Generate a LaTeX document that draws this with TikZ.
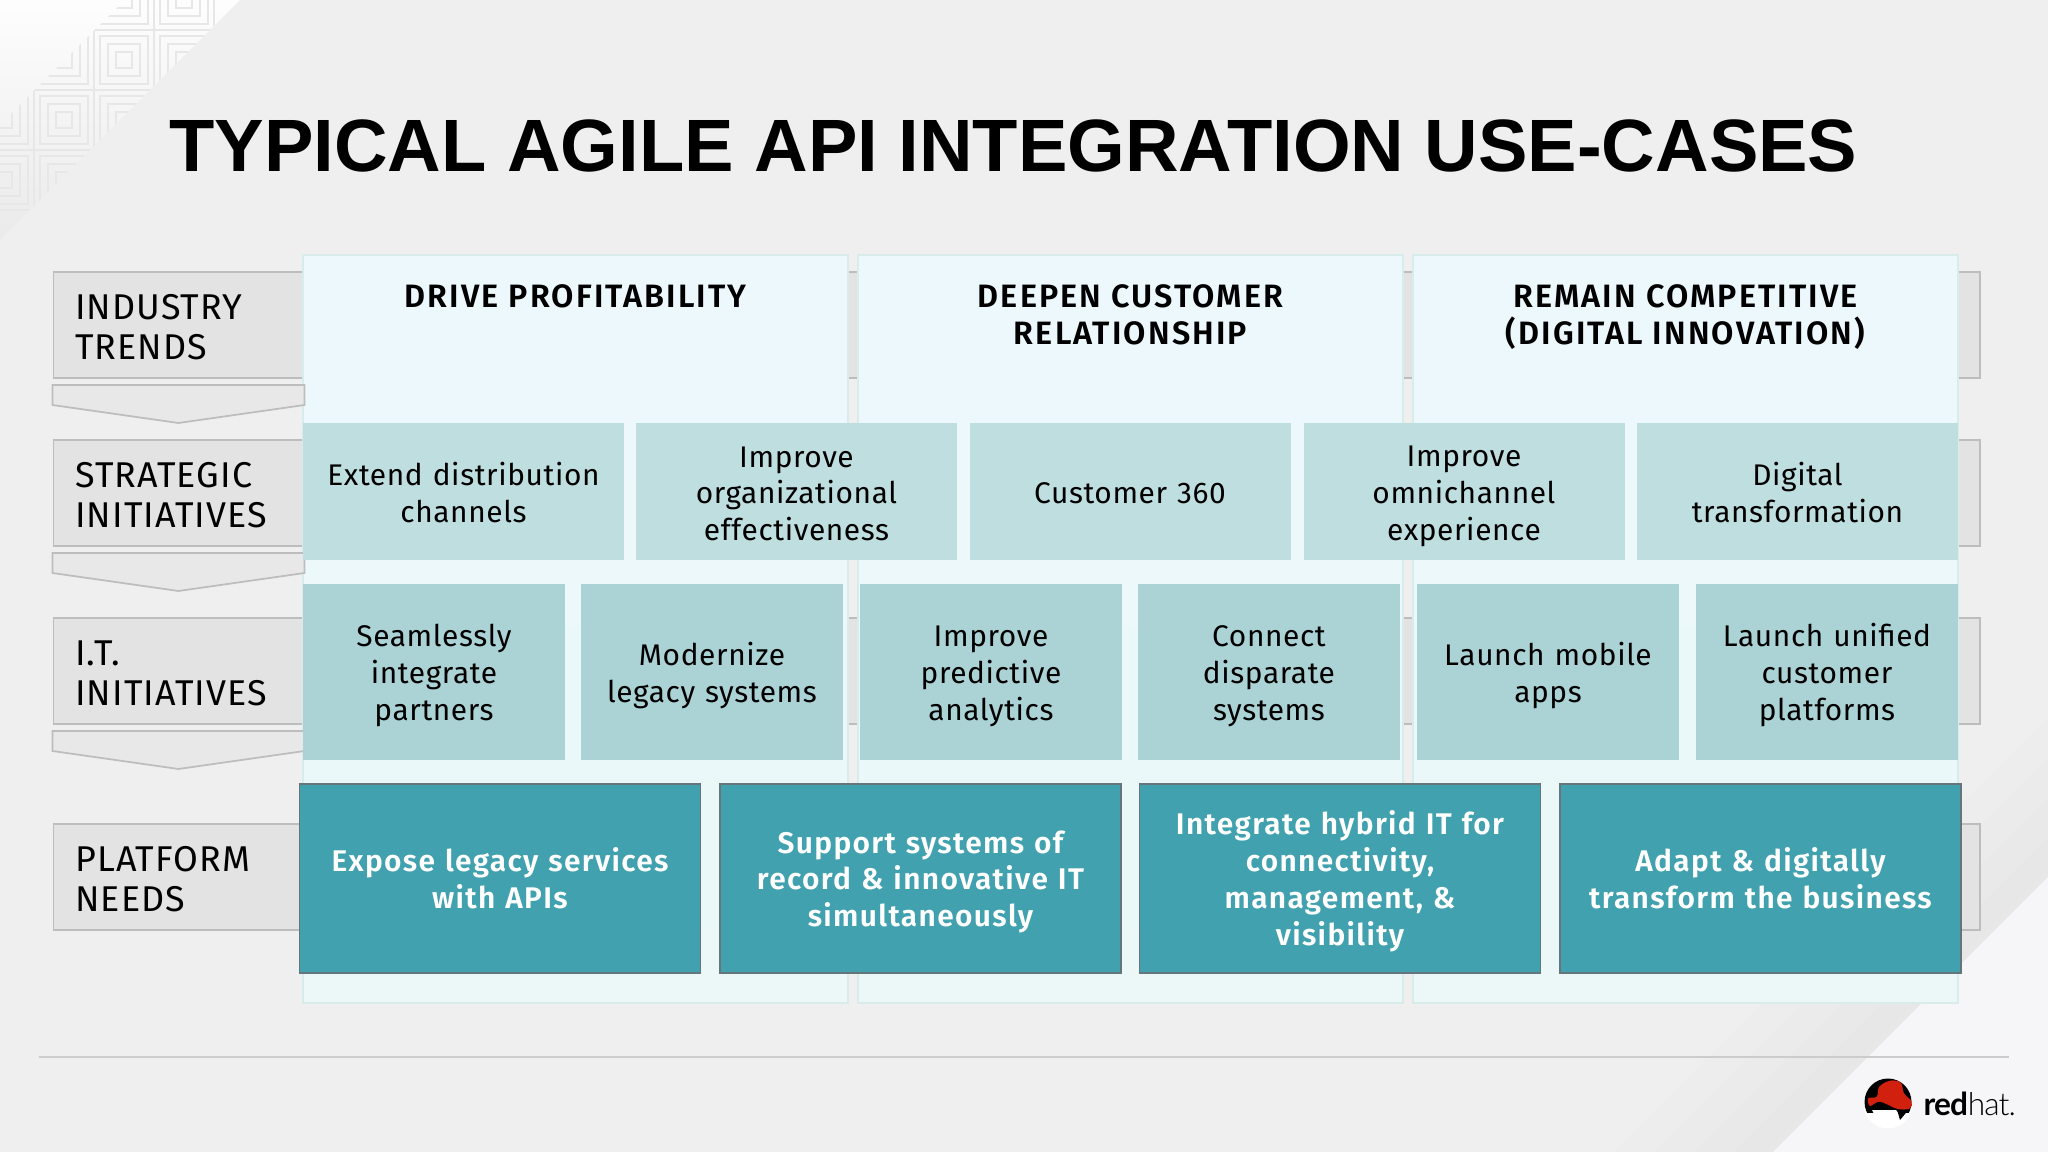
\documentclass[tikz,border=0pt]{standalone}
\usepackage{fontspec}
\usepackage{xcolor}
\usetikzlibrary{positioning}
\setmainfont{Fira Sans}
\newfontfamily\titlefont{Liberation Sans}
\newfontfamily\logofont[LetterSpace=-3]{Lato}
\newfontfamily\logolight[LetterSpace=-3]{Lato Light}
\newfontfamily\bandfont[LetterSpace=3]{Fira Sans}
\newfontfamily\bodyfont[LetterSpace=2]{Fira Sans}
\newfontfamily\headfont[LetterSpace=6.5]{Fira Sans SemiBold}
\newfontfamily\platformfont[LetterSpace=4.5]{Fira Sans SemiBold}
\definecolor{slidebg}{HTML}{EFEFEF}
\definecolor{slidelight}{HTML}{F6F5F7}
\definecolor{patternline}{HTML}{E7E7E7}
\definecolor{bandfill}{HTML}{E3E3E3}
\definecolor{bandline}{HTML}{BDBDBD}
\definecolor{columntop}{HTML}{ECF8FC}
\definecolor{columnbot}{HTML}{EBF8F7}
\definecolor{columnline}{HTML}{D8ECEC}
\definecolor{strategicfill}{HTML}{BFDEE0}
\definecolor{itfill}{HTML}{ABD2D5}
\definecolor{platformfill}{HTML}{42A1AE}
\definecolor{platformline}{HTML}{647679}
\definecolor{hatred}{HTML}{D2200F}
\newcommand{\cellstrut}{\rule[-1.6pt]{0pt}{10pt}}
\tikzset{
    bandtext/.style={anchor=west, align=left, inner sep=0pt, font=\bandfont\fontsize{10.2}{11.4}\selectfont},
    headtext/.style={anchor=north, align=center, inner sep=0pt, font=\headfont\fontsize{9.2}{10.5}\selectfont},
    cellbox/.style={align=center, inner sep=0pt, font=\bodyfont\fontsize{8.5}{10.5}\selectfont,
        execute at begin node=\cellstrut, execute at end node=\cellstrut},
    strategicbox/.style={cellbox, fill=strategicfill, text width=3.21cm, minimum height=1.37cm},
    itbox/.style={cellbox, fill=itfill, text width=2.62cm, minimum height=1.76cm},
    platformbox/.style={cellbox, fill=platformfill, draw=platformline, line width=0.5pt, text=white,
        text width=4.01cm, minimum height=1.89cm, font=\platformfont\fontsize{8.5}{10.5}\selectfont},
    column/.style={top color=columntop, bottom color=columnbot, draw=columnline, line width=0.4pt}
}
\begin{document}
\begin{tikzpicture}[y=-1cm]
\useasboundingbox (0,0) rectangle (20.48,11.52);

% Background
\fill[slidebg] (0,0) rectangle (20.48,11.52);
\foreach \d in {0.4,0.8,1.2,1.6} {
    \fill[black, opacity=0.006] (20.48,8.77-\d) -- (20.48,8.77) -- (17.73,11.52) -- (17.73-\d,11.52) -- cycle;
}
\fill[slidelight] (20.48,8.77) -- (20.48,11.52) -- (17.73,11.52) -- cycle;

% Corner pattern
\begin{scope}
\clip (0,0) -- (2.4,0) -- (0,2.4) -- cycle;
\shade[shading angle=45, top color=white!90!slidebg, bottom color=slidebg!98!black] (0,0) rectangle (2.4,2.4);
\end{scope}
\begin{scope}
\clip (1.25,0) -- (2.4,0) -- (0,2.4) -- (0,1.25) -- cycle;
\foreach \cx in {0.04,0.64,1.24,1.84} {
    \foreach \cy in {0,0.6,1.2,1.8} {
        \draw[patternline, line width=0.5pt] (\cx-0.3,\cy-0.3) rectangle (\cx+0.3,\cy+0.3);
        \draw[patternline, line width=0.5pt] (\cx-0.24,\cy-0.24) rectangle (\cx+0.24,\cy+0.24);
        \draw[patternline, line width=0.5pt] (\cx-0.16,\cy-0.16) rectangle (\cx+0.16,\cy+0.16);
        \draw[patternline, line width=0.5pt] (\cx-0.08,\cy-0.08) rectangle (\cx+0.08,\cy+0.08);
    }
}
\end{scope}

% Title
\node[anchor=base, inner sep=0pt, font=\titlefont\bfseries\fontsize{21.1}{25}\selectfont] (title) at (10.135,1.72) {TYPICAL AGILE API INTEGRATION USE-CASES};

% Bands behind the columns
\foreach \y in {2.72,4.40,6.18,8.24} {
    \fill[bandfill] (0.535,\y) rectangle (19.80,\y+1.06);
    \draw[bandline, line width=0.5pt] (0.535,\y) rectangle (19.80,\y+1.06);
}

% Band labels
\node[bandtext] (trends) at (0.745,3.27) {INDUSTRY\\TRENDS};
\node[bandtext] (strategic) at (0.745,4.95) {STRATEGIC\\INITIATIVES};
\node[bandtext] (initiatives) at (0.745,6.73) {I.T.\\INITIATIVES};
\node[bandtext] (needs) at (0.745,8.795) {PLATFORM\\NEEDS};

% Columns
\path[column] (3.03,2.55) rectangle (8.48,10.03);
\path[column] (8.58,2.55) rectangle (14.03,10.03);
\path[column] (14.13,2.55) rectangle (19.58,10.03);
\node[headtext] (profit) at (5.755,2.84) {DRIVE PROFITABILITY};
\node[headtext] (customer) at (11.305,2.84) {DEEPEN CUSTOMER\\RELATIONSHIP};
\node[headtext] (compete) at (16.855,2.84) {REMAIN COMPETITIVE\\(DIGITAL INNOVATION)};

% Chevrons between the bands
\foreach \y in {3.85,5.53,7.31} {
    \draw[bandline, fill=bandfill!60!slidebg, line width=0.5pt] (0.525,\y) -- (3.045,\y) -- (3.045,\y+0.2) -- (1.785,\y+0.38) -- (0.525,\y+0.2) -- cycle;
}

% Strategic initiatives row
\node[strategicbox] (extend) at (4.635,4.92) {Extend distribution\\channels};
\node[strategicbox] (effective) at (7.965,4.92) {Improve\\organizational\\effectiveness};
\node[strategicbox] (threesixty) at (11.30,4.92) {Customer 360};
\node[strategicbox] (omni) at (14.64,4.92) {Improve\\omnichannel\\experience};
\node[strategicbox] (digital) at (17.975,4.92) {Digital\\transformation};

% I.T. initiatives row
\node[itbox] (partners) at (4.34,6.72) {Seamlessly\\integrate\\partners};
\node[itbox] (legacy) at (7.12,6.72) {Modernize\\legacy systems};
\node[itbox] (predictive) at (9.91,6.72) {Improve\\predictive\\analytics};
\node[itbox] (disparate) at (12.69,6.72) {Connect\\disparate\\systems};
\node[itbox] (mobile) at (15.48,6.72) {Launch mobile\\apps};
\node[itbox] (unified) at (18.27,6.72) {Launch unified\\customer\\platforms};

% Platform needs row
\node[platformbox] (expose) at (5.00,8.785) {Expose legacy services\\with APIs};
\node[platformbox] (record) at (9.205,8.785) {Support systems of\\record \& innovative IT\\simultaneously};
\node[platformbox] (hybrid) at (13.40,8.785) {Integrate hybrid IT for\\connectivity,\\management, \&\\visibility};
\node[platformbox] (adapt) at (17.605,8.785) {Adapt \& digitally\\transform the business};

% Footer line
\draw[bandline!70!slidebg, line width=0.6pt] (0.39,10.57) -- (20.09,10.57);

% Logo
\fill[white] (18.88,11.04) circle (0.245);
\begin{scope}
\clip (18.60,10.70) rectangle (19.16,11.12);
\fill[black] (18.88,11.02) circle (0.235);
\end{scope}
\fill[white] (18.72,11.10) -- (18.96,11.10) -- (19.06,11.22) -- (18.80,11.26) -- cycle;
\fill[black] (18.96,11.06) -- (19.10,11.08) -- (19.00,11.20) -- cycle;
\fill[hatred] plot[smooth cycle, tension=0.6] coordinates {(18.683,10.983) (18.767,10.967) (18.793,10.867) (18.90,10.807) (19.007,10.827) (19.04,10.933) (19.117,11.017) (19.093,11.087) (18.967,11.087) (18.80,11.017) (18.70,11.06)};
\node[anchor=base west, inner sep=0pt, font=\fontsize{9}{10}\selectfont] (logo) at (19.23,11.15) {{\logofont\bfseries red}{\logolight hat.}};

\end{tikzpicture}
\end{document}
